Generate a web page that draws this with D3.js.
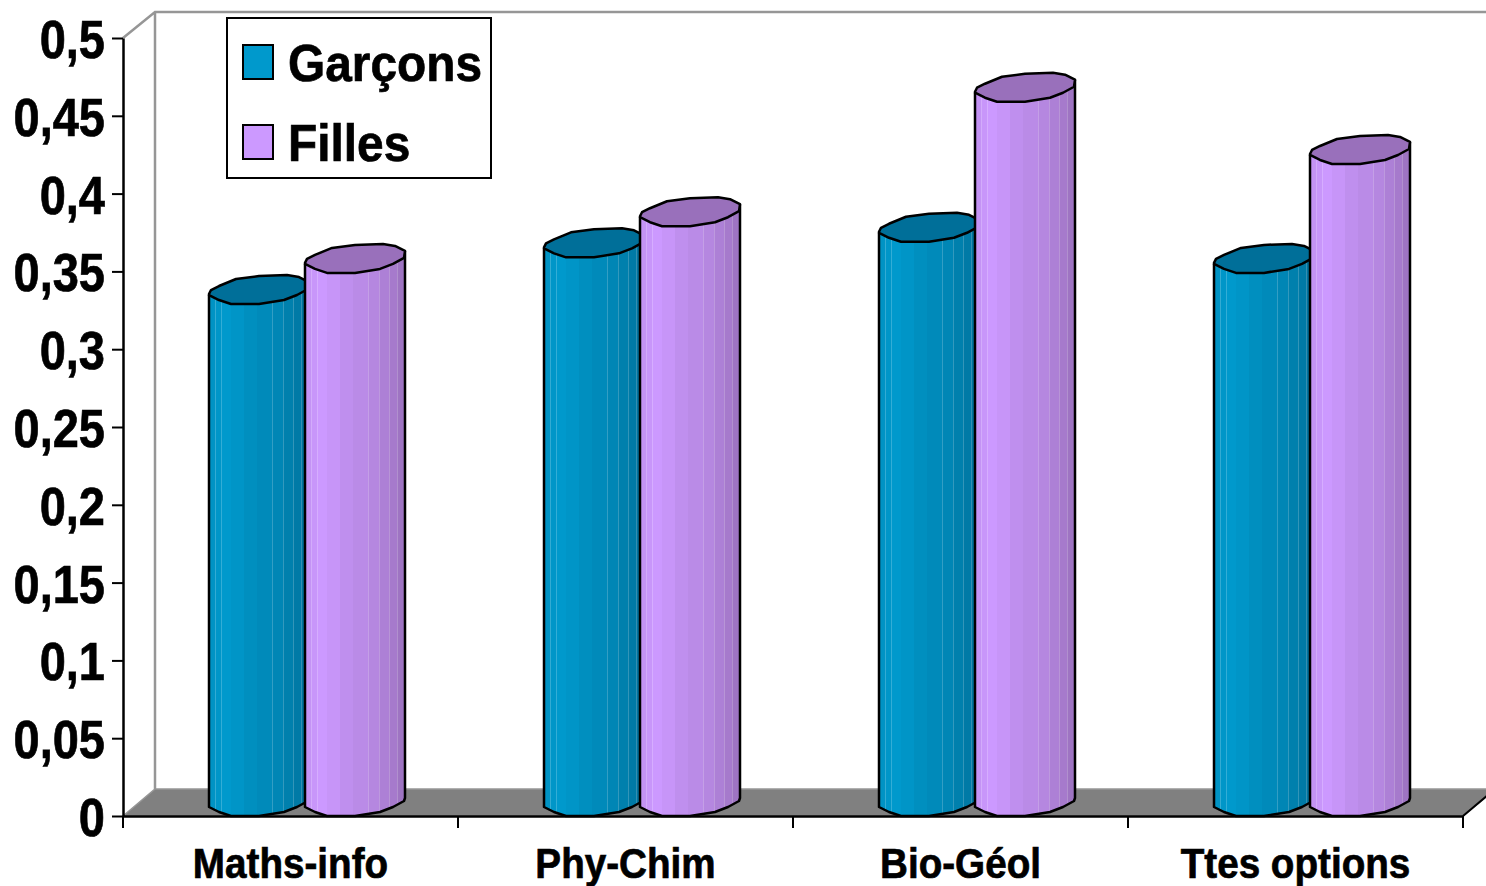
<!DOCTYPE html>
<html>
<head>
<meta charset="utf-8">
<script src="https://cdn.jsdelivr.net/npm/d3@7"></script>
<style>
  html, body { margin: 0; padding: 0; background: #fff; overflow: hidden; }
  text { font-family: "Liberation Sans", Arial, sans-serif; font-weight: bold; fill: #000; stroke: #000; stroke-width: 0.7px; }
</style>
</head>
<body>
<div id="chart"></div>
<script>
(function() {
  var categories = ['Maths-info', 'Phy-Chim', 'Bio-Géol', 'Ttes options'];
  var seriesNames = ['Garçons', 'Filles'];
  var garcons = [0.33, 0.36, 0.37, 0.35];
  var filles = [0.35, 0.38, 0.46, 0.42];
  var yTicks = [0, 0.05, 0.1, 0.15, 0.2, 0.25, 0.3, 0.35, 0.4, 0.45, 0.5];

  var width = 1486, height = 886;
  var left = 123, right = 1463, top = 38, bottom = 816;
  // depth of the fake 3d box
  var depthX = 32, depthY = 27;

  var baseColors = { 'Garçons': '#0099cc', 'Filles': '#cc99ff' };
  var darkColors = { 'Garçons': '#006f99', 'Filles': '#9970bb' };

  var svg = d3.select("#chart").append("svg")
    .attr("width", width)
    .attr("height", height)
    .style("display", "block");

  var xPositionScale = d3.scaleBand().domain(categories).range([left, right]);
  var yPositionScale = d3.scaleLinear().domain([0, 0.5]).range([bottom, top]);
  var barWidth = 100;
  var seriesScale = d3.scaleBand().domain(seriesNames).range([86, 278]);

  // wall + floor
  var wall = svg.append("g");
  wall.append("path")
    .attr("d", "M" + left + "," + top + "L" + (left + depthX) + "," + (top - depthY + 1) +
      "H" + width + "M" + (left + depthX) + "," + (top - depthY + 1) + "V" + (bottom - depthY))
    .attr("fill", "none")
    .attr("stroke", "#969696")
    .attr("stroke-width", 2.5);
  wall.append("path")
    .attr("d", "M" + left + "," + bottom + "L" + (left + depthX) + "," + (bottom - depthY) +
      "H" + (right + depthX) + "L" + right + "," + bottom + "Z")
    .attr("fill", "#808080")
    .attr("stroke", "#969696")
    .attr("stroke-width", 1.5);
  wall.append("line")
    .attr("x1", right).attr("y1", bottom)
    .attr("x2", right + depthX).attr("y2", bottom - depthY)
    .attr("stroke", "#000")
    .attr("stroke-width", 2);

  // stepped shading across the cylinder, offsets in % of the width
  var bandStops = [0, 6, 12, 22, 35, 48, 63, 74, 84, 92, 100];
  var bandShade = [0.15, 0.08, 0, 0.1, 0.25, 0.35, 0.45, 0.6, 0.75, 0.9];
  var defs = svg.append("defs");
  seriesNames.forEach(function(name, s) {
    var shade = d3.interpolateRgb(baseColors[name], darkColors[name]);
    var grad = defs.append("linearGradient").attr("id", "shade" + s);
    bandShade.forEach(function(t, i) {
      var c = shade(t);
      var from = bandStops[i], to = bandStops[i + 1];
      // first/last bands have no light seam
      var seam = i > 0 && [6, 12, 63, 74, 84, 92].indexOf(from) >= 0;
      if (seam) {
        var light = d3.interpolateRgb(c, "#fff")(0.2);
        grad.append("stop").attr("offset", from + "%").attr("stop-color", light);
        grad.append("stop").attr("offset", (from + 1) + "%").attr("stop-color", light);
        grad.append("stop").attr("offset", (from + 1) + "%").attr("stop-color", c);
      } else {
        grad.append("stop").attr("offset", from + "%").attr("stop-color", c);
      }
      grad.append("stop").attr("offset", to + "%").attr("stop-color", c);
    });
  });

  // outline of the polygon cylinder, relative to the front-left of the cap
  var upperArc = [[0, 0], [2, -4], [10, -8], [27, -15], [50, -18], [78, -19], [90, -17], [100, -12]];
  var lowerArc = [[0, 1], [10, 6], [22, 10], [50, 10], [75, 6], [88, 1], [99, -5]];
  var topDrop = 8.5, baseDrop = 10;
  var line = d3.line();

  function capPath(x, y) {
    var pts = upperArc.concat([[99, -5]]).concat(lowerArc.slice(0, -1).reverse());
    return line(pts.map(function(p) { return [x + p[0], y + p[1]]; })) + "Z";
  }

  function bodyPath(x, y, base) {
    var pts = [[x, y + 1]];
    lowerArc.forEach(function(p) { pts.push([x + p[0], base + p[1]]); });
    pts.push([x + barWidth, base - 8]);
    pts.push([x + barWidth, y - 12]);
    return line(pts);
  }

  var rows = [];
  categories.forEach(function(cat, i) {
    rows.push({ cat: cat, name: seriesNames[0], s: 0, value: garcons[i] });
    rows.push({ cat: cat, name: seriesNames[1], s: 1, value: filles[i] });
  });

  var bars = svg.selectAll(".bar")
    .data(rows)
    .enter().append("g")
    .attr("class", "bar");

  bars.append("path")
    .attr("d", function(d) {
      var x = xPositionScale(d.cat) + seriesScale(d.name);
      return bodyPath(x, yPositionScale(d.value) - topDrop, yPositionScale(0) - baseDrop);
    })
    .attr("fill", function(d) { return "url(#shade" + d.s + ")"; })
    .attr("stroke", "#000")
    .attr("stroke-width", 2.5)
    .attr("stroke-linejoin", "round");

  bars.append("path")
    .attr("d", function(d) {
      var x = xPositionScale(d.cat) + seriesScale(d.name);
      return capPath(x, yPositionScale(d.value) - topDrop);
    })
    .attr("fill", function(d) { return darkColors[d.name]; })
    .attr("stroke", "#000")
    .attr("stroke-width", 2.5)
    .attr("stroke-linejoin", "round");

  // y axis
  var yAxis = d3.axisLeft(yPositionScale)
    .tickValues(yTicks)
    .tickSize(11)
    .tickSizeOuter(0)
    .tickFormat(function(d) { return String(d).replace(".", ","); });

  var yG = svg.append("g")
    .attr("transform", "translate(" + left + ",0)")
    .call(yAxis);
  yG.select(".domain").attr("stroke", "#000").attr("stroke-width", 2.5);
  yG.selectAll(".tick line").attr("stroke", "#000").attr("stroke-width", 2);
  yG.selectAll(".tick text")
    .attr("font-size", 54)
    .style("font-family", '"Liberation Sans", Arial, sans-serif')
    .attr("text-anchor", "end")
    .attr("transform", "scale(0.87,1)")
    .attr("x", -18 / 0.87)
    .attr("dy", "0.36em");

  // x axis, labels sit at the band centre, ticks between bands
  var xAxis = d3.axisBottom(xPositionScale).tickSize(0).tickSizeOuter(0).tickPadding(0);
  var xG = svg.append("g")
    .attr("transform", "translate(0," + bottom + ")")
    .call(xAxis);
  xG.select(".domain").attr("stroke", "#000").attr("stroke-width", 2.5);
  xG.selectAll(".tick text")
    .attr("font-size", 42)
    .style("font-family", '"Liberation Sans", Arial, sans-serif')
    .attr("transform", "scale(0.92,1)")
    .attr("dy", 0)
    .attr("y", 62);

  xG.selectAll(".edge")
    .data(categories.concat(["end"]))
    .enter().append("line")
    .attr("class", "edge")
    .attr("x1", function(d) { return d === "end" ? right : xPositionScale(d); })
    .attr("x2", function(d) { return d === "end" ? right : xPositionScale(d); })
    .attr("y1", 0)
    .attr("y2", 12)
    .attr("stroke", "#000")
    .attr("stroke-width", 2);

  // legend
  var legend = svg.append("g").attr("transform", "translate(227,18)");
  legend.append("rect")
    .attr("width", 264)
    .attr("height", 160)
    .attr("fill", "#fff")
    .attr("stroke", "#000")
    .attr("stroke-width", 2);

  var legendRow = legend.selectAll(".row")
    .data(seriesNames)
    .enter().append("g")
    .attr("class", "row")
    .attr("transform", function(d, i) { return "translate(16," + (27 + i * 80) + ")"; });

  legendRow.append("rect")
    .attr("width", 30)
    .attr("height", 34)
    .attr("fill", function(d) { return baseColors[d]; })
    .attr("stroke", "#000")
    .attr("stroke-width", 2);

  legendRow.append("text")
    .attr("font-size", 52)
    .attr("transform", "scale(0.92,1)")
    .attr("x", 45 / 0.92)
    .attr("y", 36)
    .text(function(d) { return d; });
})();
</script>
</body>
</html>
